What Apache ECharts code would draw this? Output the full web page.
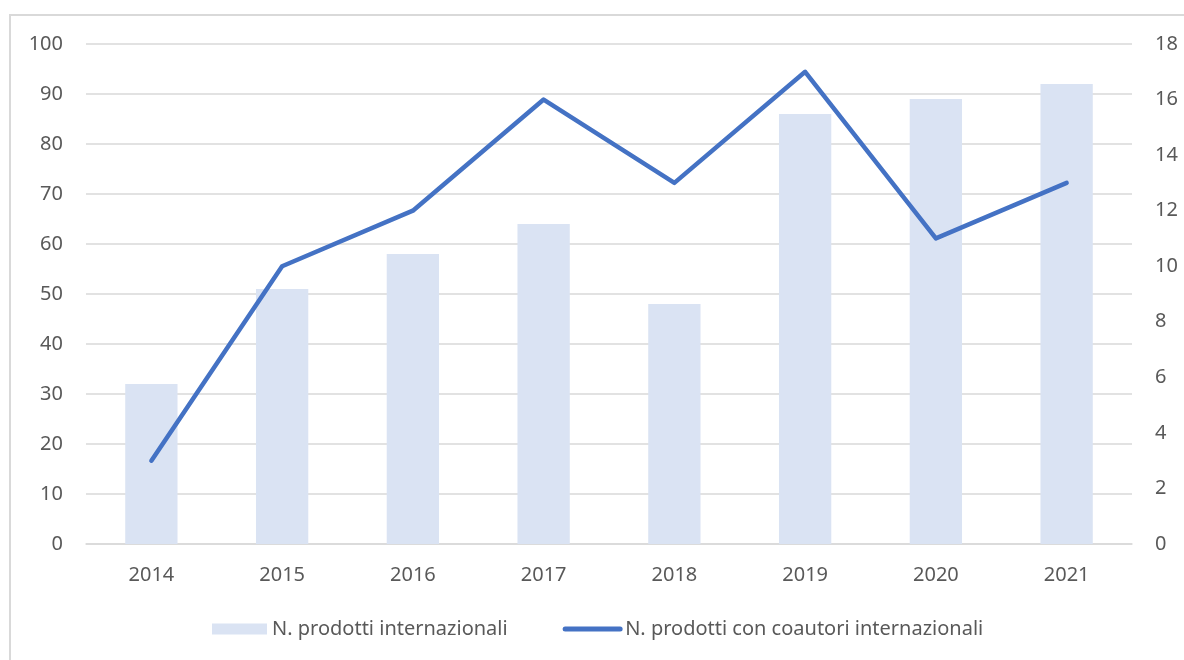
<!DOCTYPE html>
<html>
<head>
<meta charset="utf-8">
<script src="https://cdn.jsdelivr.net/npm/echarts@6/dist/echarts.min.js"></script>
<style>
html,body{margin:0;padding:0;background:#fff;}
#c{width:1184px;height:660px;}
</style>
</head>
<body>
<div id="c"></div>
<script>
const categories = ['2014','2015','2016','2017','2018','2019','2020','2021'];
const prodottiInternazionali = [32, 51, 58, 64, 48, 86, 89, 92];
const prodottiCoautori = [3, 10, 12, 16, 13, 17, 11, 13];
const leftTicks = {min: 0, max: 100, interval: 10};
const rightTicks = {min: 0, max: 18, interval: 2};

const FONT = '"Noto Sans", "Open Sans", sans-serif';
const chart = echarts.init(document.getElementById('c'), null, {renderer: 'canvas'});
chart.setOption({
  animation: false,
  backgroundColor: '#fff',
  graphic: [{
    type: 'rect',
    silent: true,
    z: -10,
    shape: {x: 10, y: 15, width: 1220, height: 700},
    style: {fill: 'none', stroke: '#D9D9D9', lineWidth: 2}
  }],
  grid: {left: 86, right: 52, top: 44, bottom: 116},
  legend: {
    bottom: 16,
    left: 207,
    itemWidth: 55,
    itemHeight: 11,
    itemGap: 55,
    textStyle: {fontFamily: FONT, fontSize: 20, color: '#595959'},
    data: [
      {name: 'N. prodotti internazionali', icon: 'rect'},
      {name: 'N. prodotti con coautori internazionali',
       lineStyle: {width: 5, cap: 'round', color: '#4472C4'},
       itemStyle: {opacity: 0}}
    ]
  },
  xAxis: {
    type: 'category',
    data: categories,
    axisLine: {show: true, lineStyle: {color: '#D9D9D9', width: 1.5}},
    axisTick: {show: false},
    axisLabel: {fontFamily: FONT, fontSize: 20, color: '#595959', margin: 21}
  },
  yAxis: [{
    type: 'value',
    min: leftTicks.min, max: leftTicks.max, interval: leftTicks.interval,
    axisLine: {show: false}, axisTick: {show: false},
    splitLine: {lineStyle: {color: '#D9D9D9', width: 1.5}},
    axisLabel: {fontFamily: FONT, fontSize: 20, color: '#595959', margin: 23}
  }, {
    type: 'value',
    min: rightTicks.min, max: rightTicks.max, interval: rightTicks.interval,
    axisLine: {show: false}, axisTick: {show: false},
    splitLine: {show: false},
    axisLabel: {fontFamily: FONT, fontSize: 20, color: '#595959', margin: 23}
  }],
  series: [{
    name: 'N. prodotti internazionali',
    type: 'bar',
    yAxisIndex: 0,
    barWidth: '40%',
    data: prodottiInternazionali,
    itemStyle: {color: '#DAE3F3'}
  }, {
    name: 'N. prodotti con coautori internazionali',
    type: 'line',
    yAxisIndex: 1,
    data: prodottiCoautori,
    symbol: 'none',
    lineStyle: {color: '#4472C4', width: 4.5, cap: 'round', join: 'round'},
    itemStyle: {color: '#4472C4'}
  }]
});
</script>
</body>
</html>
